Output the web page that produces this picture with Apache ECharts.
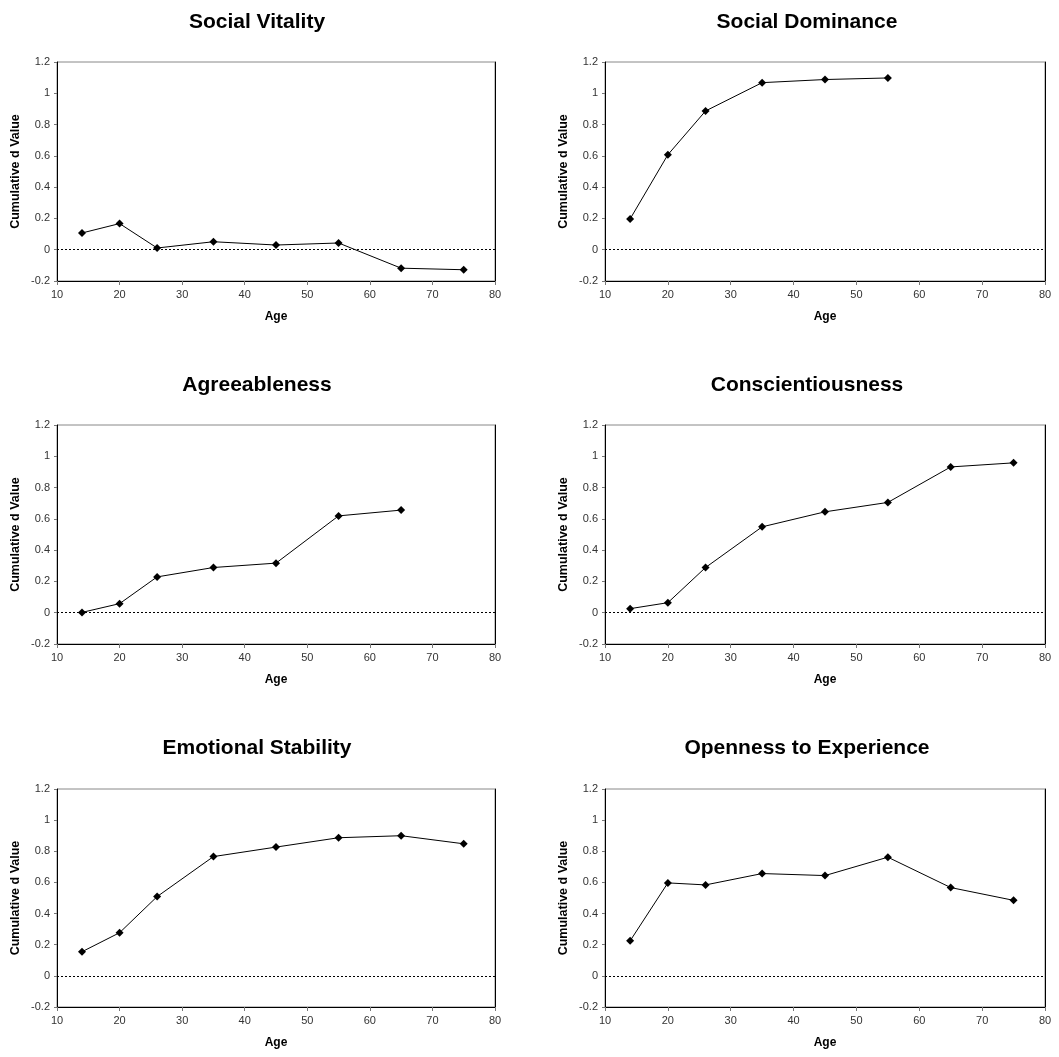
<!DOCTYPE html>
<html>
<head>
<meta charset="utf-8">
<script src="https://cdn.jsdelivr.net/npm/echarts@6/dist/echarts.min.js"></script>
<style>
html,body{margin:0;padding:0;background:#fff;}
#chart{width:1059px;height:1057px;}
</style>
</head>
<body>
<div id="chart"></div>
<script>
const titles = ["Social Vitality", "Social Dominance", "Agreeableness", "Conscientiousness", "Emotional Stability", "Openness to Experience"];
const xTitle = "Age";
const yTitle = "Cumulative d Value";

const agesSocialVitality = [14, 20, 26, 35, 45, 55, 65, 75];
const socialVitality = [0.107, 0.167, 0.011, 0.051, 0.030, 0.043, -0.118, -0.128];

const agesSocialDominance = [14, 20, 26, 35, 45, 55];
const socialDominance = [0.197, 0.607, 0.887, 1.068, 1.088, 1.098];

const agesAgreeableness = [14, 20, 26, 35, 45, 55, 65];
const agreeableness = [0.002, 0.058, 0.229, 0.289, 0.317, 0.619, 0.656];

const agesConscientiousness = [14, 20, 26, 35, 45, 55, 65, 75];
const conscientiousness = [0.026, 0.064, 0.289, 0.549, 0.645, 0.705, 0.932, 0.958];

const agesEmotionalStability = [14, 20, 26, 35, 45, 55, 65, 75];
const emotionalStability = [0.155, 0.277, 0.509, 0.766, 0.827, 0.887, 0.900, 0.848];

const agesOpenness = [14, 20, 26, 35, 45, 55, 65, 75];
const openness = [0.225, 0.597, 0.584, 0.657, 0.644, 0.762, 0.567, 0.485];

const panelAges = [agesSocialVitality, agesSocialDominance, agesAgreeableness, agesConscientiousness, agesEmotionalStability, agesOpenness];
const panelValues = [socialVitality, socialDominance, agreeableness, conscientiousness, emotionalStability, openness];

const FONT = "'Liberation Sans', Arial, sans-serif";
const gridsPos = [
  {left: 57, top: 62, width: 438, height: 219},
  {left: 605, top: 62, width: 440, height: 219},
  {left: 57, top: 425, width: 438, height: 219},
  {left: 605, top: 425, width: 440, height: 219},
  {left: 57, top: 789, width: 438, height: 218},
  {left: 605, top: 789, width: 440, height: 218}
];
const titleY = [7, 370, 733];
const titleX = [252, 802];

const option = {
  animation: false,
  backgroundColor: '#fff',
  title: [], grid: [], xAxis: [], yAxis: [], series: []
};

for (let i = 0; i < 6; i++) {
  const col = i % 2, row = Math.floor(i / 2);
  option.title.push({
    text: titles[i], left: titleX[col], top: titleY[row], textAlign: 'center',
    textStyle: {fontFamily: FONT, fontSize: 21, fontWeight: 'bold', color: '#000'}
  });
  option.grid.push(Object.assign({show: true, borderColor: '#888', borderWidth: 1, backgroundColor: 'transparent'}, gridsPos[i]));
  option.xAxis.push({
    type: 'value', gridIndex: i, min: 10, max: 80, interval: 10,
    name: xTitle, nameLocation: 'middle', nameGap: 30,
    nameTextStyle: {fontFamily: FONT, fontSize: 12, fontWeight: 'bold', color: '#000'},
    axisLine: {show: true, onZero: false, lineStyle: {color: '#000', width: 1}},
    axisTick: {show: true, inside: false, length: 4, lineStyle: {color: '#777'}},
    axisLabel: {fontFamily: FONT, fontSize: 11, color: '#333', margin: 8},
    splitLine: {show: false}
  });
  option.yAxis.push({
    type: 'value', gridIndex: i, min: -0.2, max: 1.2, interval: 0.2,
    name: yTitle, nameLocation: 'middle', nameGap: 35,
    nameTextStyle: {fontFamily: FONT, fontSize: 12.5, fontWeight: 'bold', color: '#000'},
    axisLine: {show: true, onZero: false, lineStyle: {color: '#000', width: 1}},
    axisTick: {show: true, inside: false, length: 3, lineStyle: {color: '#777'}},
    axisLabel: {fontFamily: FONT, fontSize: 11, color: '#333', margin: 7},
    splitLine: {show: false}
  });
}
for (let i = 0; i < 6; i++) {
  option.yAxis.push({
    type: 'value', gridIndex: i, position: 'right', min: -0.2, max: 1.2, interval: 0.2,
    axisLine: {show: true, onZero: false, lineStyle: {color: '#000', width: 1}},
    axisTick: {show: false}, axisLabel: {show: false}, splitLine: {show: false}
  });
}

for (let i = 0; i < 6; i++) {
  const pts = panelAges[i].map((a, k) => [a, panelValues[i][k]]);
  option.series.push({
    type: 'line', xAxisIndex: i, yAxisIndex: i, data: pts,
    symbol: 'diamond', symbolSize: 8, showSymbol: true,
    lineStyle: {color: '#000', width: 1},
    itemStyle: {color: '#000'},
    z: 3,
    markLine: {
      silent: true, symbol: 'none', label: {show: false},
      lineStyle: {color: '#000', type: [2, 2], width: 1},
      data: [{yAxis: 0}]
    }
  });
}

const chart = echarts.init(document.getElementById('chart'), null, {renderer: 'canvas'});
chart.setOption(option);
</script>
</body>
</html>
